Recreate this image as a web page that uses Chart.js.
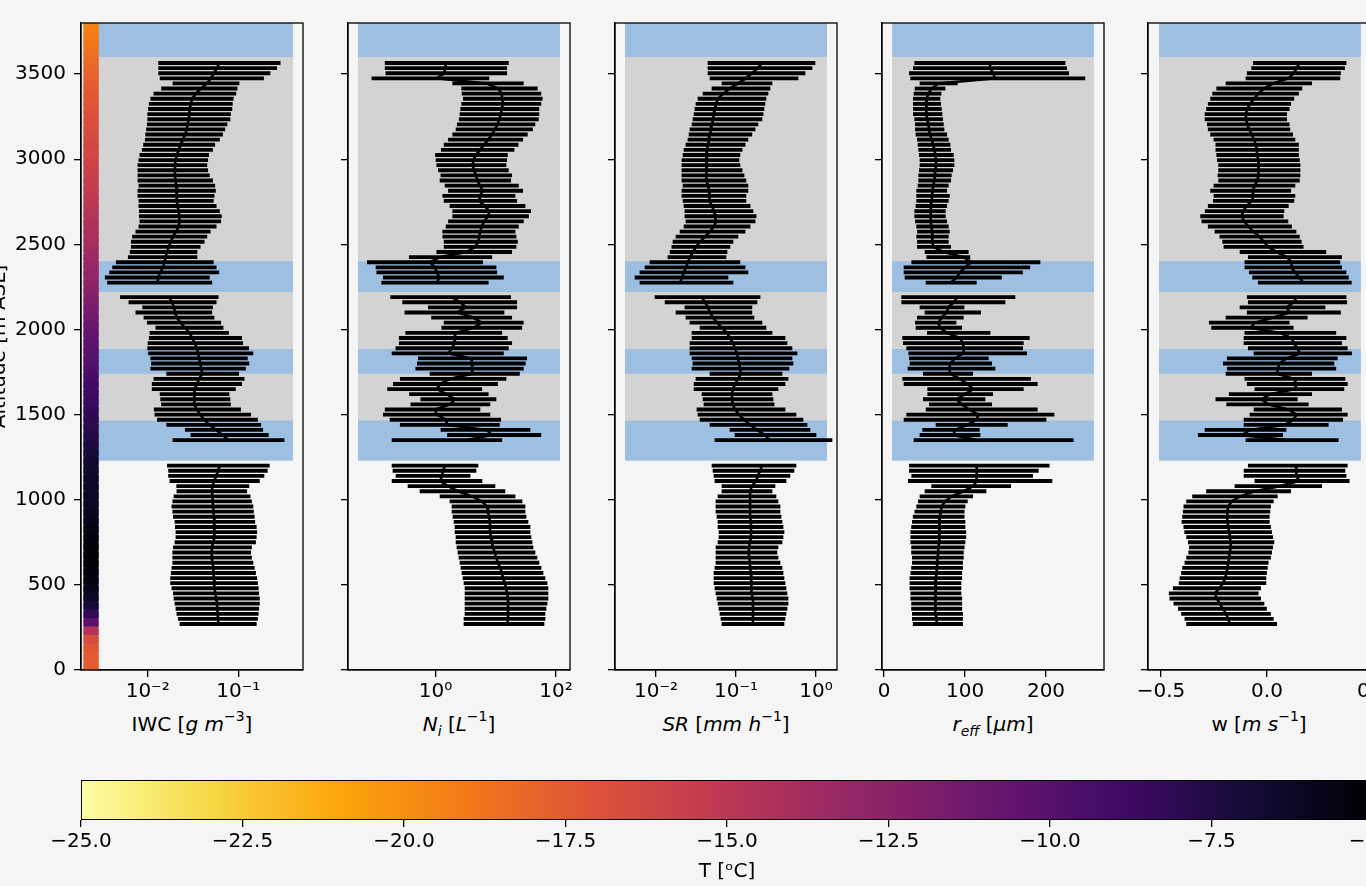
<!DOCTYPE html>
<html><head><meta charset="utf-8">
<script src="https://cdn.jsdelivr.net/npm/chart.js@4.4.1/dist/chart.umd.min.js"></script>
<style>
html,body{margin:0;padding:0;background:#f5f5f5;overflow:hidden;width:1366px;height:886px;}
body{position:relative;font-family:"DejaVu Sans",sans-serif;}
canvas{position:absolute;}
.xl{position:absolute;top:712px;width:222px;text-align:center;font-size:20px;line-height:24px;color:#000;white-space:nowrap;}
.xl sup{font-size:14px;line-height:0;position:relative;top:-2px;vertical-align:super;}
.xl sub{font-size:14px;line-height:0;position:relative;vertical-align:sub;}
</style></head>
<body>
<div class="xl" style="left:81px">IWC [<i>g</i> <i>m</i><sup>−3</sup>]</div>
<div class="xl" style="left:348px"><i>N<sub>i</sub></i> [<i>L</i><sup>−1</sup>]</div>
<div class="xl" style="left:615px"><i>SR</i> [<i>mm</i> <i>h</i><sup>−1</sup>]</div>
<div class="xl" style="left:882px"><i>r<sub>eff</sub></i> [<i>μm</i>]</div>
<div class="xl" style="left:1148px">w [<i>m</i> <i>s</i><sup>−1</sup>]</div>
<script>
// ---------------- data ----------------
const ALT = [3565,3535,3505,3475,3445,3415,3385,3355,3325,3295,3265,3235,3205,3175,3145,3115,3085,3055,3025,2995,2965,2935,2905,2875,2845,2815,2785,2755,2725,2695,2665,2635,2605,2575,2545,2515,2485,2455,2425,2395,2365,2335,2305,2275,
 2190,2160,2130,2100,2070,2040,2010,1980,1950,1920,1890,1860,1830,1800,1770,1740,1710,1680,1650,1620,1590,1560,1530,1500,1470,1440,1410,1380,1350,
 1200,1170,1140,1110,1080,1050,1020,990,960,930,900,870,840,810,780,750,720,690,660,630,600,570,540,510,480,450,420,390,360,330,300,270];

const IWC_MED = [.062,.058,.054,.050,.045,.039,.034,.031,.030,.029,.0289,.0284,.0276,.0269,.026,.0246,.023,.022,.021,.0203,.020,.020,.020,.0203,.0206,.021,.021,.021,.0213,.022,.0224,.0224,.022,.0206,.019,.018,.0171,.0163,.0158,.0153,.0148,.0137,.0132,.0127,
 .0173,.0185,.0195,.020,.021,.023,.026,.029,.031,.033,.035,.036,.037,.038,.039,.040,.037,.035,.033,.0325,.0325,.033,.035,.038,.042,.048,.057,.067,.078,
 .062,.060,.057,.054,.052,.051,.052,.052,.053,.053,.054,.054,.055,.055,.054,.053,.051,.051,.051,.052,.053,.053,.054,.054,.055,.056,.057,.058,.059,.059,.060,.060];
const IWC_LO = [.0132,.0132,.0132,.0137,.019,.0142,.0117,.0108,.0104,.0102,.0100,.0100,.0099,.0097,.0095,.0094,.0090,.0087,.0082,.0080,.0078,.0078,.0078,.0078,.0080,.0078,.0078,.0080,.0080,.0081,.0081,.0082,.0080,.0074,.0068,.0066,.0066,.0064,.0061,.0045,.0041,.0038,.0034,.0036,
 .0050,.0062,.0088,.0074,.0091,.0099,.0123,.0106,.0104,.0101,.0100,.0102,.0108,.0110,.0108,.0162,.0117,.0112,.0112,.0137,.0139,.0142,.0118,.0120,.0128,.0162,.026,.030,.019,
 .0165,.0170,.0170,.0176,.0209,.021,.0195,.0189,.0185,.0189,.0192,.020,.0202,.0205,.0205,.020,.0192,.0189,.0189,.0189,.0185,.0182,.0179,.0179,.0185,.0192,.0195,.020,.0205,.021,.0218,.0227];
const IWC_HI = [.29,.265,.224,.19,.102,.097,.094,.088,.086,.085,.082,.081,.075,.071,.067,.062,.055,.052,.047,.046,.045,.046,.048,.052,.055,.056,.054,.053,.057,.062,.065,.064,.057,.049,.045,.042,.038,.035,.035,.053,.057,.061,.048,.051,
 .060,.057,.052,.051,.054,.064,.068,.078,.109,.112,.130,.145,.126,.131,.120,.101,.116,.109,.093,.079,.081,.082,.106,.137,.163,.177,.186,.215,.320,
 .220,.209,.192,.171,.131,.124,.135,.140,.145,.147,.150,.152,.158,.160,.158,.155,.140,.137,.140,.145,.150,.155,.160,.163,.166,.168,.171,.171,.168,.166,.163,.158];

const NI_MED = [1.50,1.45,1.39,1.05,7.07,11.1,12.4,12.9,13.1,12.6,12.1,11.5,10.7,9.7,8.6,7.5,6.4,5.48,4.7,4.25,4.14,4.36,4.7,4.95,5.48,6.07,5.48,5.34,6.6,7.8,7.5,6.4,5.85,5.48,5.34,5.15,4.55,3.29,1.19,.811,.98,1.05,1.16,1.05,
 1.86,2.55,3.2,2.3,4.25,5.85,4.25,2.19,2.03,2.1,1.86,1.64,3.85,4.14,4.0,4.14,1.74,1.19,1.05,1.53,2.1,1.74,.98,1.05,1.50,1.53,7.07,8.6,3.29,
 1.44,1.33,1.28,1.19,1.61,2.36,4.04,5.9,7.16,7.43,7.72,8.03,8.03,8.03,8.34,8.66,9.0,9.7,10.1,10.9,11.8,12.7,13.2,14.2,14.8,15.4,16.0,16.0,16.0,16.0,16.0,15.4];
const NI_LO = [.146,.146,.150,.088,1.93,2.72,2.76,2.90,2.72,2.62,2.55,2.48,2.30,2.19,1.93,1.64,1.39,1.25,1.0,1.02,1.05,1.12,1.23,1.19,1.44,1.64,1.32,1.39,1.74,1.93,1.93,1.64,1.50,1.32,1.32,1.39,1.39,1.05,.367,.074,.103,.106,.136,.128,
 .18,.285,.76,.31,.86,1.39,1.27,.32,.25,.25,.22,.19,.52,.50,.47,.81,.26,.20,.16,.37,.57,.39,.146,.136,.176,.26,1.23,1.58,.19,
 .19,.197,.221,.19,.35,.553,1.19,1.74,1.88,1.88,1.95,2.03,2.11,2.11,2.19,2.19,2.27,2.36,2.45,2.55,2.65,2.75,2.86,2.97,3.09,3.09,3.09,3.09,3.09,3.09,2.97,2.97];
const NI_HI = [16.2,15.2,15.2,7.7,28.7,49,56,59,56,52,52,51,44.7,40.7,33.4,28,23.5,20.1,15.6,15.2,14.8,16.2,18.4,17.7,23.8,28,20.9,22.3,30.6,38,35,28.7,23.8,20.9,21.7,22.9,21.7,18.4,8.6,6.07,10.1,10.4,13.4,7.5,
 17.7,22.3,22.3,13.7,18.4,28.7,27,12.6,15.6,18.4,16.2,13.4,32.6,31,28.7,24.7,14.8,10.7,5.85,7.5,10.1,8.0,5.48,8.0,12.1,11.5,37,56,12.6,
 5.07,4.7,3.74,5.9,9.7,14.2,20.9,27.3,30.6,30.6,31.8,34.3,37,37,38.5,40,41.5,44.8,48.4,52.2,56.4,60.8,65.7,70.9,73.6,73.6,73.6,70.9,68.2,65.7,65.7,63.2];

const SR_MED = [.211,.188,.158,.133,.1059,.0841,.0688,.0596,.0562,.0546,.0531,.0516,.0501,.0487,.0473,.0460,.0447,.0434,.0422,.0422,.0422,.0422,.0434,.0434,.0447,.0460,.0460,.0473,.0501,.0531,.0546,.0562,.0531,.0473,.0410,.0355,.0316,.0290,.0266,.0251,.0237,.0224,.0211,.0200,
 .0376,.0410,.0447,.0473,.0516,.0579,.0668,.0772,.0841,.0917,.0972,.1029,.1059,.109,.112,.1155,.1059,.0972,.0917,.0891,.0891,.0917,.0972,.109,.126,.150,.183,.230,.266,
 .211,.200,.188,.178,.158,.150,.150,.150,.150,.150,.150,.154,.154,.154,.154,.150,.145,.145,.145,.150,.150,.154,.154,.154,.158,.158,.163,.163,.163,.163,.163,.163];
const SR_LO = [.0447,.0447,.0447,.0473,.0668,.0501,.0387,.0335,.0316,.0307,.0299,.0290,.0282,.0266,.0259,.0251,.0237,.0224,.0218,.0211,.0211,.0211,.0211,.0211,.0218,.0211,.0211,.0218,.0224,.0230,.0230,.0237,.0224,.0200,.0178,.0163,.0158,.0150,.0141,.00841,.00729,.0063,.00546,.0063,
 .00972,.0130,.0230,.0178,.0237,.0266,.0355,.0282,.0282,.0266,.0266,.0266,.0282,.0290,.0282,.0473,.0316,.0299,.0299,.0376,.0387,.0398,.0325,.0335,.0355,.0473,.0841,.0972,.0546,
 .0501,.0516,.0531,.0546,.0668,.0668,.0596,.0562,.0562,.0562,.0579,.0596,.0596,.0613,.0613,.0596,.0562,.0562,.0562,.0562,.0546,.0531,.0531,.0531,.0546,.0562,.0579,.0596,.0613,.0631,.0649,.0668];
const SR_HI = [.972,.891,.729,.596,.282,.266,.251,.237,.230,.224,.218,.211,.188,.173,.158,.141,.130,.119,.112,.109,.112,.119,.126,.133,.141,.141,.133,.133,.150,.163,.178,.173,.150,.130,.1059,.0917,.0841,.0772,.0750,.112,.130,.141,.0794,.0917,
 .200,.183,.158,.158,.168,.211,.237,.282,.410,.434,.501,.579,.501,.516,.460,.376,.447,.410,.335,.282,.290,.299,.410,.562,.688,.772,.841,1.0,1.585,
 .562,.531,.473,.422,.307,.282,.316,.335,.355,.355,.365,.376,.387,.398,.387,.376,.335,.325,.335,.355,.376,.387,.398,.410,.422,.434,.447,.447,.434,.422,.410,.398];

const REFF_MED = [130.9,130.9,135,137,67,58.8,54.7,52.7,51.9,51.9,52.7,53.5,54.7,55.6,56.8,58.8,60.9,62.1,63.4,64.2,64.2,63.4,63,62.1,60.9,59.7,59.7,58.8,58,57.6,57.6,57.6,58.4,59.3,59.3,60.1,60.9,73.3,98,108,100,93.8,89.7,82.3,
 90.5,86.4,79.4,77.4,71.2,67.1,69.1,77.4,93.8,97.1,98.8,97.9,87.7,81.5,80.7,81.5,93.8,102.9,110.3,100,89.7,95.9,105.3,116.5,114.4,102.9,87.7,85.6,114.4,
 114.4,114.4,114.4,114.4,110.3,98,83.5,75.3,71.2,70,69,69,68,68,68,68,67,67,66,66,65,65,64,64,63,63,63,63,64,64,65,65];
const REFF_LO = [37.9,36.2,31.3,32.9,44.4,38.3,37,36.2,36.2,36.2,36.2,37.9,38.7,38.7,39.5,41.2,42,42.8,43.6,44.4,44.4,43.6,42.8,42.8,42,40.3,40.3,40.3,39.5,37.9,37.9,38.7,40.3,41.2,40.3,41.2,41.2,50.6,52.7,34.2,24.7,24.7,25.9,51.9,
 21.8,21.8,44.4,50.6,41.2,38.7,39.5,53.5,23,23.9,28,30.5,31.3,32.1,29.6,48.6,23,24.7,53.9,53.9,48.6,56,51.9,28,24.7,64.2,47.7,44.4,37,
 31.3,31.3,34.2,30,58.8,50.6,44.4,42.4,40.3,38,36,35,34,33,33,33,34,34,35,35,34,33,32,32,32,33,33,34,34,35,35,36];
const REFF_HI = [223.5,225.5,228,248,90.5,75.3,70.4,69.1,70,70.8,71.6,72.4,73.3,74.1,77.4,79.4,81.5,82.3,85.6,86.4,86.4,84.8,83.1,82.3,79.4,77.4,80.7,79.4,77.4,75.7,75.7,77.4,79.4,80.7,79.4,79.4,82.3,104,106,192.6,180,171,145,114,
 161.7,149.4,98.8,119.3,97.9,88.9,95.9,130.9,179.4,172,171.2,176.1,128.8,132.9,137,109.5,181,189.3,172,134.2,124.7,132.9,189.3,209.9,200,152.3,117.7,118.5,233.7,
 204,190.5,183.5,207.4,156.4,125.9,109.5,102.9,100,99,99,100,100,101,101,100,99,98,98,97,97,96,96,95,95,95,96,96,96,97,97,97];

const W_MED = [.153,.140,.127,.101,.030,-.014,-.041,-.061,-.080,-.093,-.099,-.099,-.093,-.083,-.072,-.061,-.052,-.049,-.046,-.041,-.039,-.039,-.041,-.046,-.057,-.068,-.064,-.072,-.096,-.112,-.119,-.108,-.088,-.064,-.036,-.014,.006,.046,.093,.116,.116,.132,.153,.171,
 .140,.127,.093,.108,.030,-.057,-.077,.061,.116,.127,.143,.156,.093,.058,.053,.046,.127,.140,.132,.014,-.025,.006,.101,.140,.124,.085,-.080,-.119,.093,
 .137,.137,.140,.153,.061,-.057,-.127,-.167,-.182,-.187,-.187,-.187,-.182,-.178,-.175,-.171,-.171,-.175,-.178,-.182,-.187,-.190,-.198,-.206,-.225,-.245,-.237,-.222,-.209,-.193,-.182,-.175];
const W_LO = [-.064,-.072,-.093,-.099,-.193,-.237,-.256,-.266,-.277,-.285,-.292,-.292,-.281,-.277,-.266,-.250,-.241,-.241,-.237,-.234,-.228,-.228,-.231,-.228,-.250,-.266,-.250,-.253,-.277,-.291,-.313,-.307,-.277,-.245,-.222,-.209,-.203,-.127,-.088,-.104,-.104,-.083,-.068,-.041,
 -.093,-.088,-.127,-.093,-.193,-.272,-.261,-.104,-.108,-.108,-.088,-.061,-.187,-.206,-.187,-.193,-.104,-.093,-.057,-.178,-.241,-.190,-.061,-.080,-.108,-.108,-.292,-.324,-.099,
 -.088,-.108,-.108,-.057,-.151,-.285,-.351,-.379,-.392,-.395,-.398,-.401,-.392,-.388,-.379,-.371,-.366,-.369,-.379,-.387,-.398,-.403,-.410,-.414,-.442,-.461,-.458,-.439,-.418,-.403,-.387,-.379];
const W_HI = [.373,.366,.347,.344,.211,.165,.149,.127,.112,.105,.093,.093,.105,.108,.121,.132,.149,.149,.149,.153,.156,.156,.156,.153,.132,.112,.132,.127,.101,.080,.077,.099,.116,.137,.153,.162,.171,.278,.352,.344,.352,.373,.384,.398,
 .373,.376,.274,.347,.190,.105,.124,.325,.373,.352,.379,.399,.332,.316,.325,.211,.368,.379,.363,.211,.143,.195,.352,.379,.357,.289,.090,.074,.336,
 .379,.368,.373,.388,.258,.112,.049,.030,.017,.014,.011,.011,.017,.022,.027,.033,.027,.022,.017,.006,.002,-.002,-.005,-.005,-.030,-.041,-.030,-.014,-.002,.017,.030,.046];

// flight-leg shading (altitude ranges, m)
const GRAY_BAND = [1230, 3600];
const BLUE_BANDS = [[3600,3800],[2220,2400],[1740,1885],[1230,1465]];

// temperature profile (strip in first panel)
const STRIP_ALT = [0,50,100,150,200,250,300,350,400,450,500,550,600,650,700,750,800,850,900,950,1000,1050,1100,1150,1200,1250,1300,1350,1400,1450,1500,1550,1600,1650,1700,1750,1800,1850,1900,1950,2000,2050,2100,2150,2200,2250,2300,2350,2400,2450,2500,2550,2600,2650,2700,2750,2800,2850,2900,2950,3000,3050,3100,3150,3200,3250,3300,3350,3400,3450,3500,3550,3600,3650,3700,3750,3800];
const STRIP_T = [-17.6,-17.6,-17.5,-17.3,-16.6,-14.6,-10.2,-8.2,-7.0,-6.3,-5.8,-5.5,-5.3,-5.1,-5.0,-5.1,-5.3,-5.5,-5.8,-6.0,-6.2,-6.3,-6.4,-6.5,-6.6,-6.7,-7.0,-7.3,-7.6,-7.9,-8.1,-8.4,-8.6,-8.8,-9.0,-9.3,-9.7,-10.0,-10.2,-10.4,-10.6,-11.0,-11.4,-11.7,-12.0,-12.4,-12.8,-13.0,-13.2,-13.5,-13.8,-14.0,-14.2,-14.4,-14.7,-14.9,-15.2,-15.4,-15.6,-15.8,-16.0,-16.2,-16.3,-16.5,-16.7,-16.8,-17.0,-17.2,-17.4,-17.6,-17.8,-18.0,-18.3,-18.6,-18.9,-19.2,-19.4];
const STRIP_X = 0.00237;

const Y_TICKS = [0,500,1000,1500,2000,2500,3000,3500];
const CB_MIN = -25, CB_MAX = -5;
const CB_TICKS = [-25,-22.5,-20,-17.5,-15,-12.5,-10,-7.5,-5];

// ---------------- helpers ----------------
const INFERNO = ['#000004','#160b39','#420a68','#6a176e','#932667','#bc3754','#dd513a','#f37819','#fca50a','#f6d746','#fcffa4'];
function hex2rgb(h){return [parseInt(h.slice(1,3),16),parseInt(h.slice(3,5),16),parseInt(h.slice(5,7),16)];}
function inferno(u){u=Math.max(0,Math.min(1,u));const p=u*(INFERNO.length-1);const i=Math.min(Math.floor(p),INFERNO.length-2);const f=p-i;const a=hex2rgb(INFERNO[i]),b=hex2rgb(INFERNO[i+1]);return 'rgb('+a.map((v,k)=>Math.round(v+(b[k]-v)*f)).join(',')+')';}
function tColor(T){return inferno(1-(T-CB_MIN)/(CB_MAX-CB_MIN));}
const SUP={'-':'⁻','0':'⁰','1':'¹','2':'²','3':'³','4':'⁴'};
function pow10Label(v){const e=Math.round(Math.log10(v));return '10'+String(e).split('').map(c=>SUP[c]).join('');}
function minusFmt(s){return s.replace('-','−');}

Chart.defaults.font.family='"DejaVu Sans", sans-serif';
Chart.defaults.font.size=20;
Chart.defaults.color='#000';

const framePlugin={id:'frame',afterDatasetsDraw(chart){const {ctx,chartArea:a}=chart;ctx.save();ctx.strokeStyle='#000';ctx.lineWidth=1.3;ctx.strokeRect(a.left,a.top,a.right-a.left,a.bottom-a.top);ctx.restore();}};

function makeCanvas(left,top,w,h){const c=document.createElement('canvas');c.width=w;c.height=h;c.style.left=left+'px';c.style.top=top+'px';c.style.width=w+'px';c.style.height=h+'px';document.body.appendChild(c);return c;}
function rect(x0,x1,y0,y1){return [{x:x0,y:y0},{x:x1,y:y0},{x:x1,y:y1},{x:x0,y:y1}];}

const PANELS=[
 {left:81,axisW:93,type:'logarithmic',min:0.001837,max:0.5176,band:[0.00237,0.401],ticks:[0.01,0.1],lo:IWC_LO,hi:IWC_HI,med:IWC_MED,strip:true,fmt:pow10Label},
 {left:348,axisW:80,type:'logarithmic',min:0.0353,max:170.6,band:[0.0518,116.4],ticks:[1,100],lo:NI_LO,hi:NI_HI,med:NI_MED,fmt:pow10Label},
 {left:615,axisW:80,type:'logarithmic',min:0.003073,max:1.830,band:[0.0041,1.372],ticks:[0.01,0.1,1],lo:SR_LO,hi:SR_HI,med:SR_MED,fmt:pow10Label},
 {left:882,axisW:80,type:'linear',min:-2.5,max:271.6,band:[10,259.2],ticks:[0,100,200],lo:REFF_LO,hi:REFF_HI,med:REFF_MED,fmt:v=>String(v)},
 {left:1148,axisW:80,type:'linear',min:-0.561,max:0.486,band:[-0.509,0.443],ticks:[-0.5,0,0.5],lo:W_LO,hi:W_HI,med:W_MED,fmt:v=>minusFmt(v.toFixed(1))}
];

PANELS.forEach((p,pi)=>{
  const W=p.axisW+222+40, H=720;
  const cv=makeCanvas(p.left-p.axisW,0,W,H);
  const medPts=[];
  ALT.forEach((a,i)=>{ if(i>0 && ALT[i-1]-a>45) medPts.push({x:null,y:null}); medPts.push({x:p.med[i],y:a}); });
  const datasets=[
    {type:'line',data:rect(p.band[0],p.band[1],GRAY_BAND[0],GRAY_BAND[1]),fill:'shape',backgroundColor:'#d3d3d3',borderWidth:0,pointRadius:0,order:20},
    ...BLUE_BANDS.map(b=>({type:'line',data:rect(p.band[0],p.band[1],b[0],b[1]),fill:'shape',backgroundColor:'#9dbfe2',borderWidth:0,pointRadius:0,order:15})),
    {type:'bar',data:ALT.map((a,i)=>({y:a,x:[p.lo[i],p.hi[i]]})),backgroundColor:'#000',barThickness:3.2,order:10},
    {type:'line',data:medPts,borderColor:'#000',borderWidth:2.6,pointRadius:0,fill:false,spanGaps:false,tension:0,order:5}
  ];
  if(p.strip){
    datasets.push({type:'line',showLine:false,data:STRIP_ALT.map(a=>({x:STRIP_X,y:a})),pointStyle:'rect',pointRadius:10.7,pointBorderWidth:0,pointBackgroundColor:STRIP_T.map(tColor),pointBorderColor:'rgba(0,0,0,0)',order:1});
  }
  new Chart(cv,{
    type:'bar',
    data:{datasets},
    options:{
      responsive:false,animation:false,devicePixelRatio:1,events:[],
      indexAxis:'y',
      layout:{padding:{top:23,right:40,bottom:0,left:0}},
      plugins:{legend:{display:false},tooltip:{enabled:false}},
      scales:{
        x:{type:p.type,min:p.min,max:p.max,
           afterBuildTicks:s=>{s.ticks=p.ticks.map(v=>({value:v}));},
           ticks:{callback:v=>p.fmt(v),color:'#000',padding:3,maxRotation:0,autoSkip:false,font:{size:20}},
           grid:{drawOnChartArea:false,drawTicks:true,tickLength:7,color:'#000',lineWidth:1.3,offset:false},
           border:{display:true,color:'#000',width:1.3},
           afterFit:s=>{s.height=50;}},
        y:{type:'linear',min:0,max:3800,offset:false,
           afterBuildTicks:s=>{s.ticks=Y_TICKS.map(v=>({value:v}));},
           ticks:{callback:v=>pi===0?String(v):'',color:'#000',padding:8,autoSkip:false,font:{size:20}},
           grid:{drawOnChartArea:false,drawTicks:true,tickLength:7,color:'#000',lineWidth:1.3,offset:false},
           border:{display:true,color:'#000',width:1.3},
           title:{display:pi===0,text:'Altitude [m ASL]',color:'#000',font:{size:20},padding:0},
           afterFit:s=>{s.width=p.axisW;}}
      }
    },
    plugins:[framePlugin]
  });
});

// ---------------- colorbar ----------------
const cbCanvas=makeCanvas(0,760,1440,126);
new Chart(cbCanvas,{
  type:'bar',
  data:{labels:['T'],datasets:[{data:[[CB_MIN,CB_MAX]],
    backgroundColor:(ctx)=>{const ch=ctx.chart;if(!ch.chartArea)return '#000';const xs=ch.scales.x;const g=ch.ctx.createLinearGradient(xs.getPixelForValue(CB_MIN),0,xs.getPixelForValue(CB_MAX),0);INFERNO.forEach((c,i)=>g.addColorStop(1-i/(INFERNO.length-1),c));return g;},
    borderColor:'#000',borderWidth:1.3,borderSkipped:false,barPercentage:1,categoryPercentage:1}]},
  options:{
    responsive:false,animation:false,devicePixelRatio:1,events:[],indexAxis:'y',
    layout:{padding:{left:81,top:20,right:67,bottom:0}},
    plugins:{legend:{display:false},tooltip:{enabled:false}},
    scales:{
      x:{type:'linear',min:CB_MIN,max:CB_MAX,
         afterBuildTicks:s=>{s.ticks=CB_TICKS.map(v=>({value:v}));},
         ticks:{callback:v=>minusFmt(v.toFixed(1)),color:'#000',padding:3,maxRotation:0,autoSkip:false,font:{size:20}},
         grid:{drawOnChartArea:false,drawTicks:true,tickLength:7,color:'#000',lineWidth:1.3},
         border:{display:false},
         title:{display:true,text:'T [ᵒC]',color:'#000',font:{size:20},padding:{top:2,bottom:2}},
         afterFit:s=>{s.height=66;}},
      y:{display:false}
    }
  }
});
</script>
</body></html>
